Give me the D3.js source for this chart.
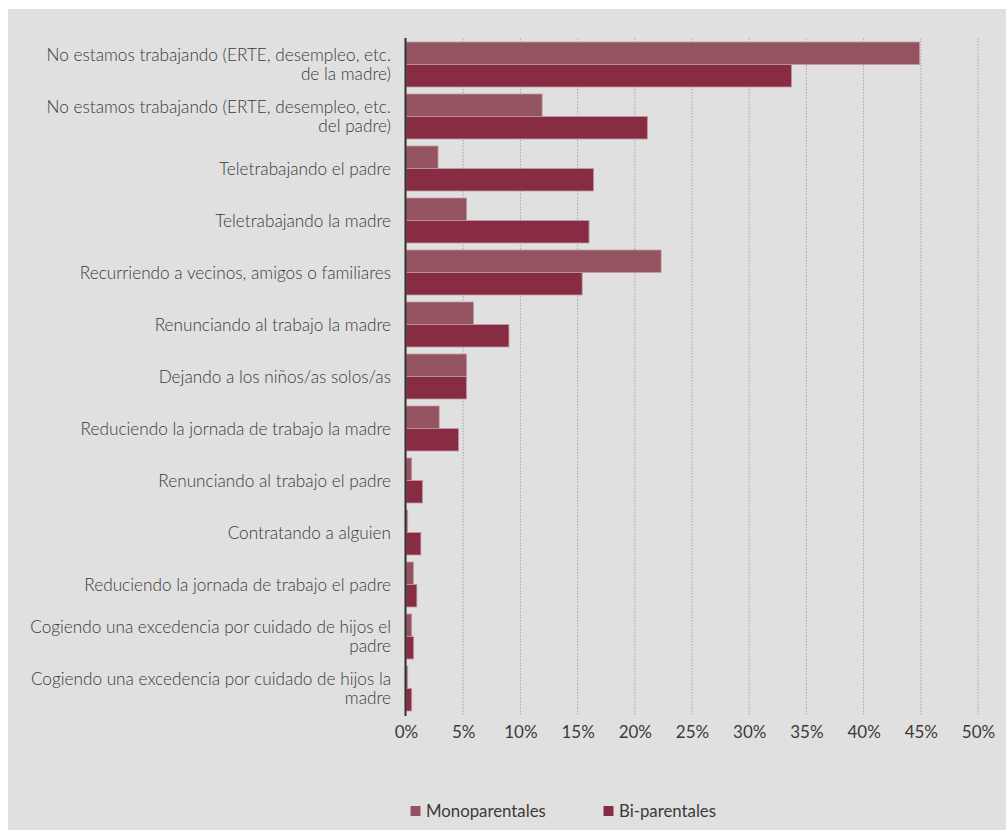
<!DOCTYPE html>
<html><head><meta charset="utf-8">
<script src="https://cdn.jsdelivr.net/npm/d3@7"></script>
<style>
html,body{margin:0;padding:0;background:#fff;}
svg{display:block;}
text{font-family:Lato,"Noto Sans",sans-serif;}
</style></head>
<body>
<svg id="chart" width="1006" height="830"></svg>
<script>
const categories = [
  "No estamos trabajando (ERTE, desempleo, etc.\nde la madre)",
  "No estamos trabajando (ERTE, desempleo, etc.\ndel padre)",
  "Teletrabajando el padre",
  "Teletrabajando la madre",
  "Recurriendo a vecinos, amigos o familiares",
  "Renunciando al trabajo la madre",
  "Dejando a los niños/as solos/as",
  "Reduciendo la jornada de trabajo la madre",
  "Renunciando al trabajo el padre",
  "Contratando a alguien",
  "Reduciendo la jornada de trabajo el padre",
  "Cogiendo una excedencia por cuidado de hijos el\npadre",
  "Cogiendo una excedencia por cuidado de hijos la\nmadre"
];
const monoparentales = [44.9, 11.9, 2.8, 5.3, 22.3, 5.9, 5.3, 2.9, 0.5, 0.15, 0.65, 0.5, 0.15];
const biparentales   = [33.7, 21.1, 16.4, 16.0, 15.4, 9.0, 5.3, 4.6, 1.45, 1.3, 0.95, 0.67, 0.5];
const seriesNames = ["Monoparentales", "Bi-parentales"];
const tickValues = [0, 5, 10, 15, 20, 25, 30, 35, 40, 45, 50];
const tickLabels = ["0%", "5%", "10%", "15%", "20%", "25%", "30%", "35%", "40%", "45%", "50%"];

const colors = ["#935360", "#882c44"];
const svg = d3.select("#chart");

svg.append("rect").attr("x", 8).attr("y", 9).attr("width", 998).attr("height", 821).attr("fill", "#e0e0e0");

const x = d3.scaleLinear().domain([0, 50]).range([406, 978]);
const y = d3.scaleBand().domain(categories).range([38.5, 714.5]).paddingInner(0.135).paddingOuter(0.0675);
const ys = d3.scaleBand().domain(seriesNames).range([0, y.bandwidth()]);

// gridlines
svg.append("g").selectAll("line").data(tickValues.filter(d => d > 0)).join("line")
  .attr("x1", d => x(d)).attr("x2", d => x(d))
  .attr("y1", 38).attr("y2", 715)
  .attr("stroke", "#a6a6a6").attr("stroke-width", 1).attr("stroke-dasharray", "1.5,1.5");

// bars
const rows = categories.map((c, i) => ({c, vals: [monoparentales[i], biparentales[i]]}));
const g = svg.append("g");
rows.forEach(r => {
  r.vals.forEach((v, j) => {
    g.append("rect")
      .attr("x", x(0)).attr("y", y(r.c) + ys(seriesNames[j]))
      .attr("width", Math.max(0, x(v) - x(0))).attr("height", ys.bandwidth())
      .attr("fill", colors[j]).attr("stroke", "#c39aa2").attr("stroke-width", 0.8);
  });
});

// zero axis line
svg.append("line").attr("x1", x(0) - 0.5).attr("x2", x(0) - 0.5).attr("y1", 38).attr("y2", 716)
  .attr("stroke", "#2e2e2e").attr("stroke-width", 2);

// category labels
const lab = svg.append("g");
categories.forEach(c => {
  const lines = c.split("\n");
  const cy = y(c) + y.bandwidth() / 2;
  const lh = 19.5;
  const t = lab.append("text").attr("text-anchor", "end").attr("fill", "#3a3a3a")
    .attr("font-size", 17.2).attr("font-weight", 300);
  lines.forEach((ln, k) => {
    t.append("tspan").attr("x", 391)
      .attr("y", cy + (k - (lines.length - 1) / 2) * lh)
      .attr("dy", "0.35em").text(ln);
  });
});

// x axis tick labels
const xAxis = d3.axisBottom(x).tickValues(tickValues).tickFormat((d, i) => tickLabels[i]).tickSize(0).tickPadding(0);
const ax = svg.append("g").attr("transform", "translate(0,726)").call(xAxis);
ax.select(".domain").remove();
ax.selectAll("text").attr("font-size", 17).attr("fill", "#3a3a3a").attr("font-family", "Lato, 'Noto Sans', sans-serif");

// legend
const legX = [410.5, 603.5];
seriesNames.forEach((s, j) => {
  svg.append("rect").attr("x", legX[j]).attr("y", 806).attr("width", 10).attr("height", 10).attr("fill", colors[j]);
  svg.append("text").attr("x", legX[j] + 15.5).attr("y", 817).attr("fill", "#3a3a3a")
    .attr("font-size", 16.8).text(s);
});
</script>
</body></html>
